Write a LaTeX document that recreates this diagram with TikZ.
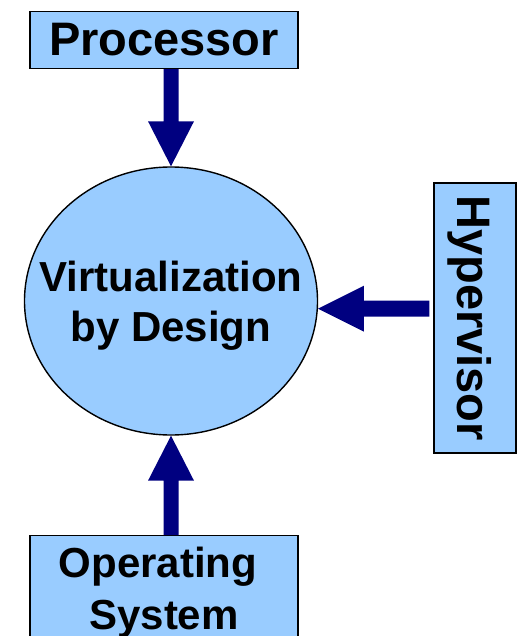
\documentclass[tikz,border=0pt]{standalone}
\usepackage{fontspec}
\setmainfont{Liberation Sans}
\usetikzlibrary{shapes.geometric,calc}
\definecolor{boxblue}{HTML}{99CCFF}
\definecolor{arrownavy}{HTML}{000080}
\tikzset{
  labelbox/.style={draw=black, fill=boxblue, line width=1.2pt, inner sep=0pt,
    font=\bfseries\fontsize{47}{51}\selectfont},
  fatarrow/.style={fill=arrownavy}
}
\begin{document}
\begin{tikzpicture}[x=1pt,y=-1pt]
  \clip (0,0) rectangle (519,636);
  \useasboundingbox (0,0) rectangle (519,636);

  % the three sources and the central ellipse
  \node[labelbox, minimum width=268pt, minimum height=57pt] (proc) at (164,40) {Processor};
  \node[ellipse, draw=black, fill=boxblue, line width=1.4pt, inner sep=0pt,
        minimum width=293pt, minimum height=268pt] (virt) at (171,301) {};
  \node[inner sep=0pt, align=center, font=\bfseries\fontsize{42}{50}\selectfont]
        (virttext) at (171,306) {Virtualization\\by Design};
  \node[labelbox, minimum width=82pt, minimum height=270pt] (hyp) at (475,318)
        {\rotatebox{-90}{Hypervisor}\hspace*{10pt}};
  \node[labelbox, anchor=north, minimum width=268pt, minimum height=130pt]
        (os) at (164,535) {};
  \node[anchor=north, inner sep=0pt, align=center,
        font=\bfseries\fontsize{42}{52}\selectfont]
        (ostext) at (164,547) {Operating\hspace*{0.28em}\\System};

  % Processor -> ellipse
  \coordinate (t1) at (virt.north);
  \coordinate (s1) at (proc.south -| t1);
  \fill[fatarrow] ($(s1)+(-7.5,0)$) -- ($(t1)+(-7.5,-45)$) -- ($(t1)+(-23,-45)$)
    -- (t1) -- ($(t1)+(23,-45)$) -- ($(t1)+(7.5,-45)$) -- ($(s1)+(7.5,0)$) -- cycle;

  % Operating System -> ellipse
  \coordinate (t2) at (virt.south);
  \coordinate (s2) at (os.north -| t2);
  \fill[fatarrow] ($(s2)+(-7.5,0)$) -- ($(t2)+(-7.5,45)$) -- ($(t2)+(-23,45)$)
    -- (t2) -- ($(t2)+(23,45)$) -- ($(t2)+(7.5,45)$) -- ($(s2)+(7.5,0)$) -- cycle;

  % Hypervisor -> ellipse
  \coordinate (t3) at (virt.-3);
  \coordinate (s3) at ($(hyp.west |- t3)+(-4,0)$);
  \fill[fatarrow] ($(s3)+(0,-8)$) -- ($(t3)+(46,-8)$) -- ($(t3)+(46,-23)$)
    -- (t3) -- ($(t3)+(46,23)$) -- ($(t3)+(46,8)$) -- ($(s3)+(0,8)$) -- cycle;
\end{tikzpicture}
\end{document}
